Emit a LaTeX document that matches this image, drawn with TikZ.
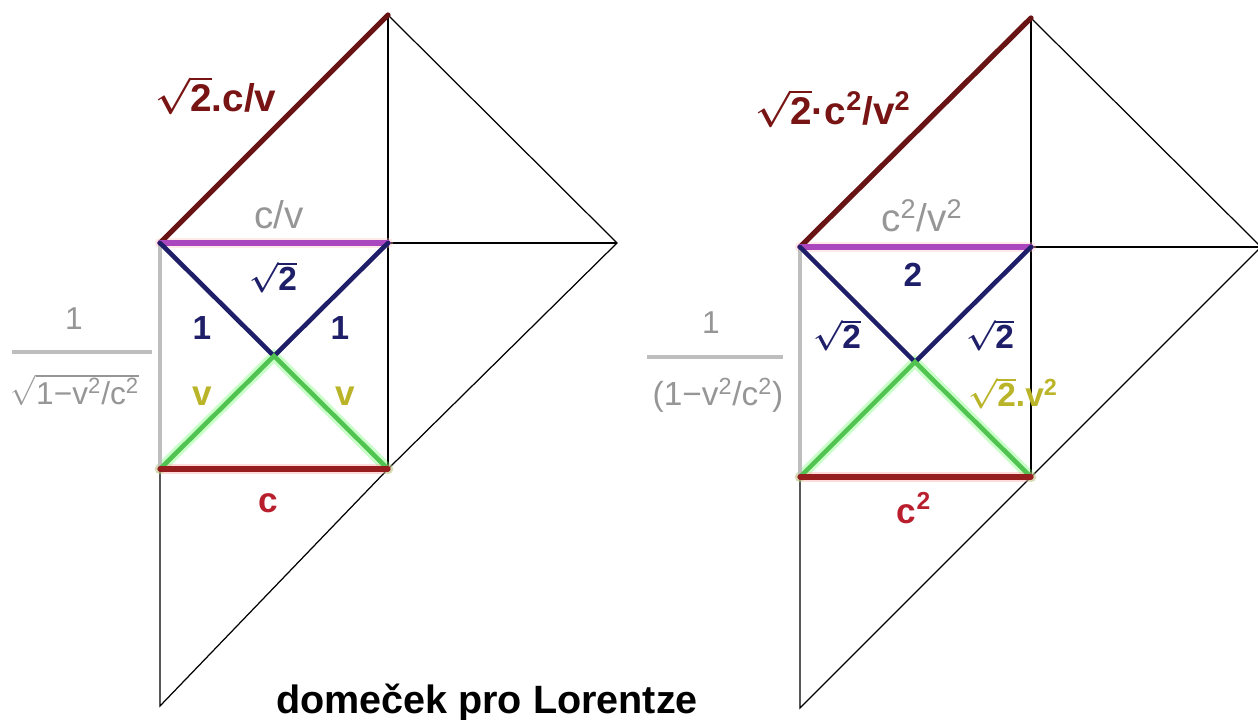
\documentclass[tikz,border=0pt]{standalone}
\usepackage{fontspec}
\setmainfont{Liberation Sans}
\usetikzlibrary{positioning}

\definecolor{hypocol}{RGB}{105,20,20}
\definecolor{topcol}{RGB}{170,70,190}
\definecolor{unitcol}{RGB}{30,30,105}
\definecolor{speedcol}{RGB}{80,195,80}
\definecolor{basecol}{RGB}{150,30,30}
\definecolor{gammacol}{RGB}{190,190,190}
\definecolor{txtgray}{RGB}{150,150,150}
\definecolor{txtolive}{RGB}{185,180,40}
\definecolor{txtred}{RGB}{185,30,45}
\definecolor{txtmaroon}{RGB}{120,20,20}

\tikzset{
  frame/.style={black, line width=0.7pt},
  heavy/.style={line width=3pt, line cap=round},
  glow/.style={line width=6pt, line cap=round, opacity=0.35},
  lbl/.style={inner sep=0pt, font=\bfseries\boldmath\fontsize{#1}{#1}\selectfont},
  plainlbl/.style={inner sep=0pt, text=txtgray, font=\fontsize{#1}{#1}\selectfont},
}
\newcommand{\sq}{\textsuperscript{2}}

\begin{document}
\begin{tikzpicture}[x=0.02cm, y=-0.02cm]
\useasboundingbox (0,0) rectangle (1258,720);

% Points, left house
\coordinate (lTop) at (388,15);
\coordinate (lA) at (160,243); \coordinate (lB) at (388,243); \coordinate (lTip) at (617,243);
\coordinate (lX) at (274,356);
\coordinate (lC) at (160,469); \coordinate (lD) at (388,469);
\coordinate (lFoot) at (160,706);
\coordinate (lBarL) at (12,352); \coordinate (lBarR) at (152,352);

% Points, right house
\coordinate (rTop) at (1031,18);
\coordinate (rA) at (800,247); \coordinate (rB) at (1031,247); \coordinate (rTip) at (1261,247);
\coordinate (rX) at (915,362);
\coordinate (rC) at (800,477); \coordinate (rD) at (1031,477);
\coordinate (rFoot) at (800,708);
\coordinate (rBarL) at (647,357); \coordinate (rBarR) at (783,357);

% Frame
\draw[frame] (lTop) -- (lTip) -- (lD) -- (lFoot) -- (lC);
\draw[frame] (lTop) -- (lD); \draw[frame] (lB) -- (lTip);
\draw[frame] (rTop) -- (rTip) -- (rD) -- (rFoot) -- (rC);
\draw[frame] (rTop) -- (rD); \draw[frame] (rB) -- (rTip);

% Coloured sides
\draw[glow, pink] (lA) -- (lB); \draw[glow, pink] (rA) -- (rB);
\draw[glow, green!60] (lC) -- (lX) -- (lD); \draw[glow, green!60] (rC) -- (rX) -- (rD);
\draw[glow, red!40] (lC) -- (lD); \draw[glow, red!40] (rC) -- (rD);
\draw[heavy, gammacol, line width=2pt] (lA) -- (lC); \draw[heavy, gammacol, line width=2pt] (rA) -- (rC);
\draw[heavy, hypocol] (lA) -- (lTop); \draw[heavy, hypocol] (rA) -- (rTop);
\draw[heavy, topcol] (lA) -- (lB); \draw[heavy, topcol] (rA) -- (rB);
\draw[heavy, unitcol, line width=2.6pt] (lA) -- (lX) -- (lB); \draw[heavy, unitcol, line width=2.6pt] (rA) -- (rX) -- (rB);
\draw[heavy, speedcol, line width=2.6pt] (lC) -- (lX) -- (lD); \draw[heavy, speedcol, line width=2.6pt] (rC) -- (rX) -- (rD);
\draw[heavy, basecol] (lC) -- (lD); \draw[heavy, basecol] (rC) -- (rD);
\draw[gammacol, line width=1.8pt] (lBarL) -- (lBarR);
\draw[gammacol, line width=1.8pt] (rBarL) -- (rBarR);

% Labels, left
\node[lbl=22, text=txtmaroon] (lHypo) at (216,95) {$\sqrt{\mbox{2}}$.c/v};
\node[plainlbl=22] (lTopLen) at (279,215) {c/v};
\node[lbl=19, text=unitcol] (lMid) at (273,277) {$\sqrt{\mbox{2}}$};
\node[lbl=19, text=unitcol] (lOneL) at (202,328) {1};
\node[lbl=19, text=unitcol] (lOneR) at (340,328) {1};
\node[lbl=20, text=txtolive] (lVL) at (202,396) {v};
\node[lbl=20, text=txtolive] (lVR) at (345,396) {v};
\node[lbl=20, text=txtred] (lBase) at (268,503) {c};
\node[plainlbl=18] (lNum) at (74,319) {1};
\node[plainlbl=18] (lDen) at (75,390) {$\sqrt{\mbox{1−v\sq/c\sq}}$};

% Labels, right
\node[lbl=22, text=txtmaroon] (rHypo) at (833,108) {$\sqrt{\mbox{2}}$·c\sq/v\sq};
\node[plainlbl=22] (rTopLen) at (922,216) {c\sq/v\sq};
\node[lbl=19, text=unitcol] (rMid) at (913,275) {2};
\node[lbl=19, text=unitcol] (rOneL) at (837,335) {$\sqrt{\mbox{2}}$};
\node[lbl=19, text=unitcol] (rOneR) at (990,335) {$\sqrt{\mbox{2}}$};
\node[lbl=19, text=txtolive] (rV) at (1013,393) {$\sqrt{\mbox{2}}$.v\sq};
\node[lbl=20, text=txtred] (rBase) at (914,508) {c\sq};
\node[plainlbl=18] (rNum) at (711,323) {1};
\node[plainlbl=19] (rDen) at (718,395) {(1−v\sq/c\sq)};

% Title
\node[lbl=22.5, anchor=base] (title) at (487,713) {domeček pro Lorentze};
\end{tikzpicture}
\end{document}
